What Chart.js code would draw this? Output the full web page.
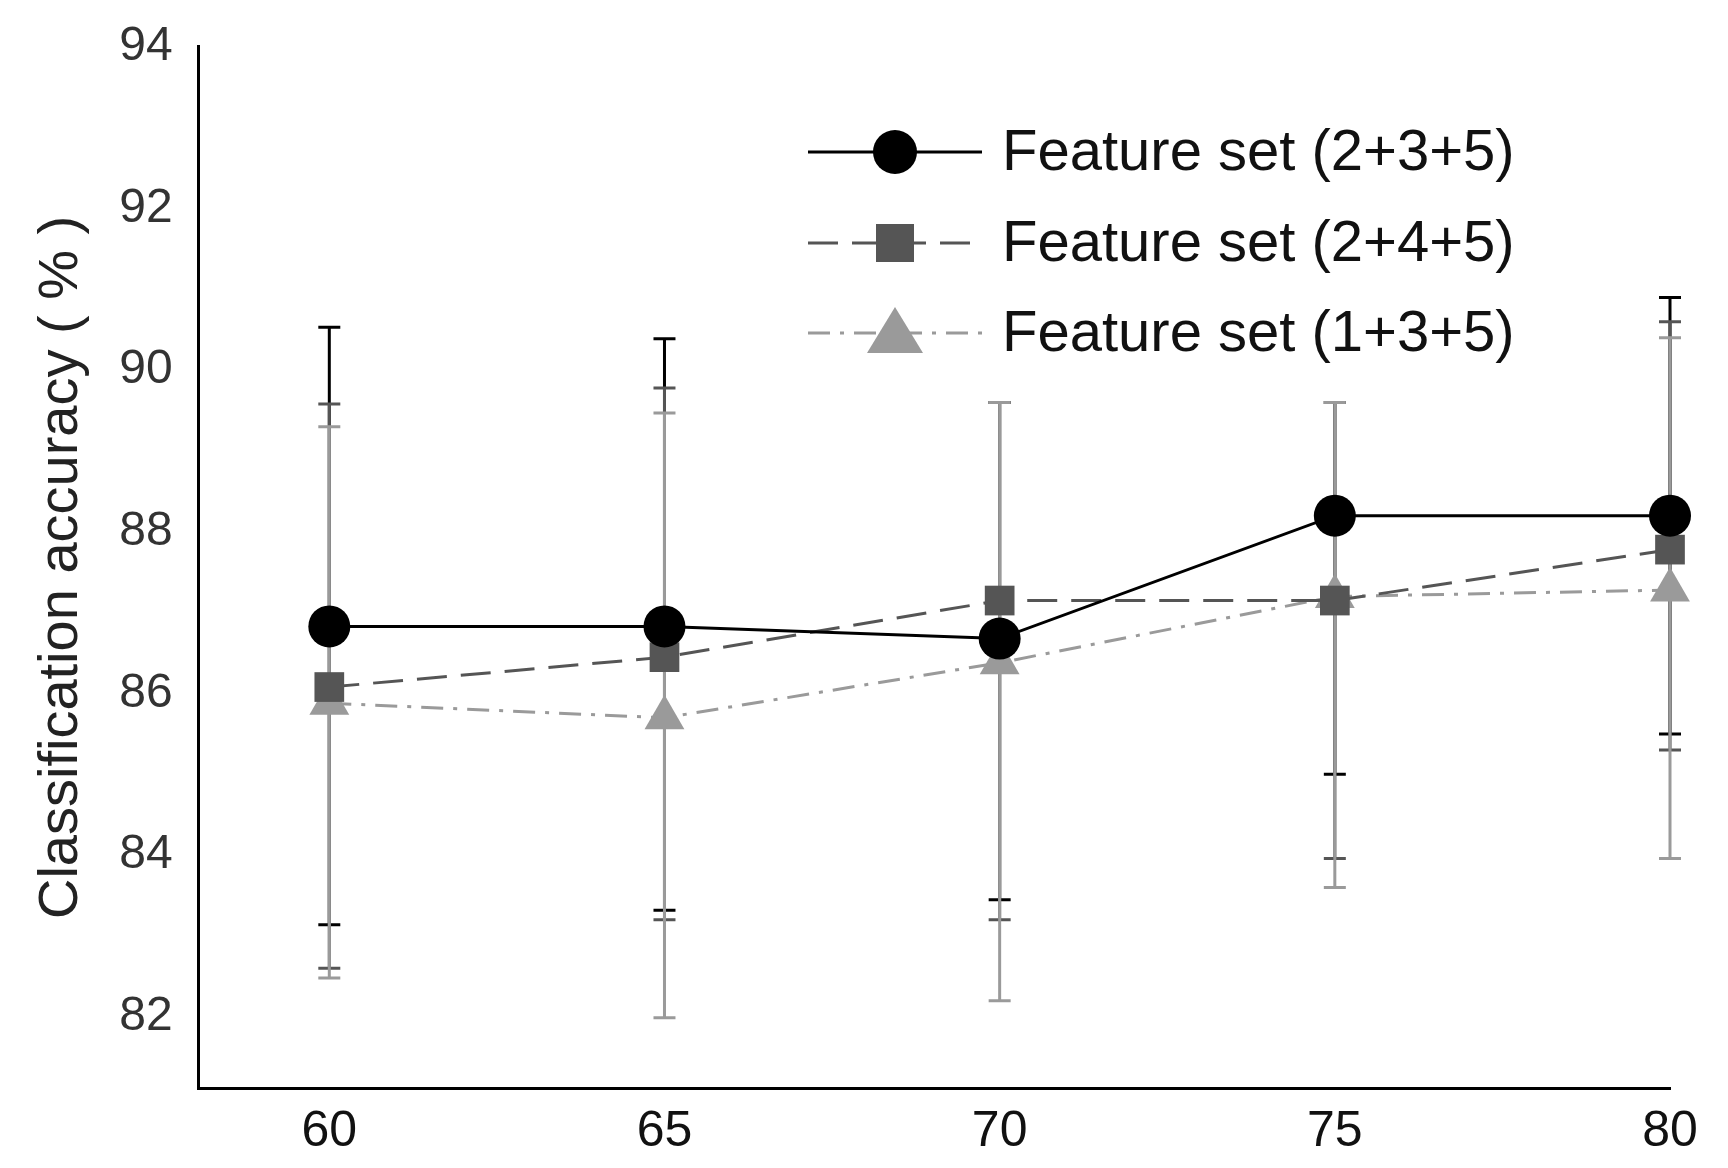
<!DOCTYPE html>
<html><head><meta charset="utf-8">
<script src="https://cdn.jsdelivr.net/npm/chart.js@4"></script>
<style>html,body{margin:0;background:#fff}#w{width:1728px;height:1168px}</style>
</head><body><div id="w"><canvas id="c"></canvas></div>
<script>
const xValues = [60, 65, 70, 75, 80];
const labels = ['Feature set (2+3+5)', 'Feature set (2+4+5)', 'Feature set (1+3+5)'];
const s1 = [86.83, 86.83, 86.68, 88.2, 88.2];
const s2 = [86.08, 86.45, 87.15, 87.15, 87.78];
const s3 = [85.88, 85.7, 86.38, 87.2, 87.28];
const s1Low = [83.14, 83.32, 83.45, 85.0, 85.5];
const s1High = [90.53, 90.39, 89.6, 89.6, 90.9];
const s2Low = [82.6, 83.2, 83.2, 83.96, 85.3];
const s2High = [89.58, 89.78, 89.6, 89.6, 90.6];
const s3Low = [82.48, 81.99, 82.2, 83.6, 83.96];
const s3High = [89.3, 89.47, 89.6, 89.6, 90.4];
const yTicks = [82, 84, 86, 88, 90, 92, 94];
const xTicks = [60, 65, 70, 75, 80];

const pts = a => xValues.map((x, i) => ({x, y: a[i]}));
const errSets = [[s1Low, s1High, '#000', 3], [s2Low, s2High, '#555', 3], [s3Low, s3High, '#9a9a9a', 3]];

const errPlugin = {
  id: 'err',
  beforeDatasetsDraw(ch) {
    const {ctx, scales: {x, y}} = ch;
    ctx.save();
    errSets.forEach(([lo, hi, col, w]) => {
      ctx.strokeStyle = col; ctx.lineWidth = w;
      xValues.forEach((xv, i) => {
        const px = x.getPixelForValue(xv), y1 = y.getPixelForValue(lo[i]), y2 = y.getPixelForValue(hi[i]);
        ctx.beginPath();
        ctx.moveTo(px, y1); ctx.lineTo(px, y2);
        ctx.moveTo(px - 11, y1); ctx.lineTo(px + 11, y1);
        ctx.moveTo(px - 11, y2); ctx.lineTo(px + 11, y2);
        ctx.stroke();
      });
    });
    ctx.restore();
  },
  afterDraw(ch) {
    const ctx = ch.ctx;
    ctx.save();
    const x0 = 808, x1 = 982, tx = 1002;
    const rows = [152, 243, 333];
    ch.data.datasets.forEach((ds, i) => {
      const yy = rows[i];
      ctx.strokeStyle = ds.borderColor; ctx.lineWidth = ds.borderWidth;
      ctx.setLineDash(ds.borderDash || []);
      ctx.beginPath(); ctx.moveTo(x0, yy); ctx.lineTo(x1, yy); ctx.stroke();
      ctx.setLineDash([]);
      const cx = (x0 + x1) / 2;
      ctx.fillStyle = ds.pointBackgroundColor;
      ctx.beginPath();
      if (ds.pointStyle === 'circle') ctx.arc(cx, yy, 22, 0, Math.PI * 2);
      else if (ds.pointStyle === 'rect') ctx.rect(cx - 19, yy - 19, 38, 38);
      else { ctx.moveTo(cx, yy - 26); ctx.lineTo(cx + 28, yy + 20); ctx.lineTo(cx - 28, yy + 20); ctx.closePath(); }
      ctx.fill();
      ctx.fillStyle = '#111'; ctx.font = '58px "Liberation Sans", Arial'; ctx.textBaseline = 'middle';
      ctx.fillText(ds.label, tx, yy + 2);
    });
    ctx.restore();
  }
};

new Chart(document.getElementById('c'), {
  type: 'line',
  data: { datasets: [
    { label: labels[0], data: pts(s1), borderColor: '#000', borderWidth: 3, pointStyle: 'circle', pointRadius: 21, pointBackgroundColor: '#000', pointBorderWidth: 0 },
    { label: labels[1], data: pts(s2), borderColor: '#555', borderWidth: 3, borderDash: [30, 14], pointStyle: 'rect', pointRadius: 21, pointBackgroundColor: '#555', pointBorderWidth: 0 },
    { label: labels[2], data: pts(s3), borderColor: '#9a9a9a', borderWidth: 3, borderDash: [22, 10, 4, 10], pointStyle: 'triangle', pointRadius: 23, pointBackgroundColor: '#9a9a9a', pointBorderWidth: 0 }
  ]},
  options: {
    responsive: true, maintainAspectRatio: false, animation: false,
    clip: false,
    layout: { padding: { top: 38, right: 58, bottom: 0, left: 22 } },
    plugins: { legend: { display: false }, tooltip: { enabled: false } },
    scales: {
      x: { type: 'linear', min: 58.05, max: 80,
        afterBuildTicks: a => { a.ticks = xTicks.map(v => ({value: v})); },
        grid: { display: false }, border: { color: '#000', width: 3 },
        ticks: { color: '#111', font: { size: 50, family: '"Liberation Sans", Arial' }, padding: 6 } },
      y: { min: 81.12, max: 94,
        afterBuildTicks: a => { a.ticks = yTicks.map(v => ({value: v})); },
        grid: { display: false }, border: { color: '#000', width: 3 },
        ticks: { color: '#333', font: { size: 48, family: '"Liberation Sans", Arial' }, padding: 18 },
        title: { display: true, text: 'Classification accuracy ( % )', color: '#222', font: { size: 56, family: '"Liberation Sans", Arial' }, padding: 6 } }
    }
  },
  plugins: [errPlugin]
});
</script></body></html>
